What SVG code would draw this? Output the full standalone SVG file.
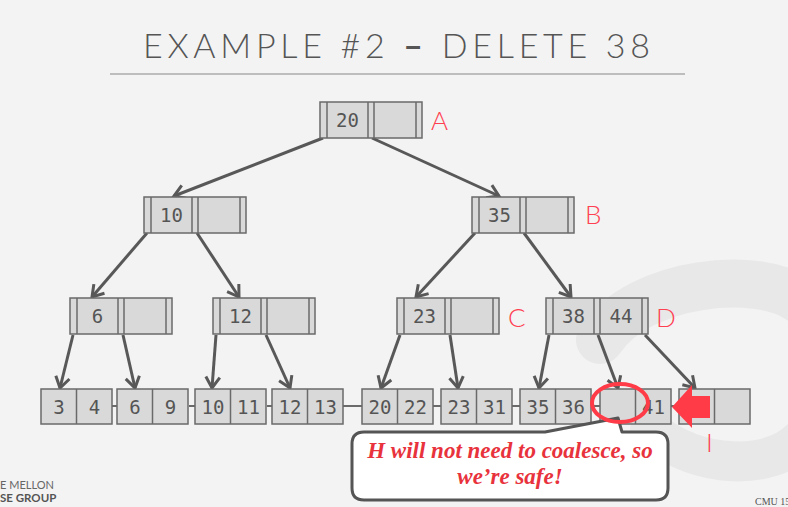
<svg xmlns="http://www.w3.org/2000/svg" width="788" height="507" viewBox="0 0 788 507">
<style>
.bg{fill:#f3f3f3}
.deco{fill:none;stroke:#e8e8e8;stroke-linecap:round}
.cell{fill:#d9d9d9;stroke:#6a6a6a;stroke-width:1.5}
.key{font-family:"DejaVu Sans Mono",monospace;font-size:19px;fill:#555;text-anchor:middle}
.lbl{font-family:"Lato","Open Sans",sans-serif;font-weight:300;font-size:26px;fill:#ff4050}
.edge{fill:none;stroke:#585858;stroke-width:3}
.sib{stroke:#6a6a6a;stroke-width:2}
.title{font-family:"Lato","Open Sans",sans-serif;font-weight:300;font-size:34px;fill:#555}
.note{font-family:"Liberation Serif",serif;font-weight:bold;font-style:italic;font-size:23px;fill:#e8323c;text-anchor:middle}
</style>
<defs>
<marker id="ah" markerUnits="userSpaceOnUse" markerWidth="20" markerHeight="20" viewBox="0 0 20 20" refX="15" refY="10" orient="auto">
<path d="M4,3 L15,10 L4,17" fill="none" stroke="#585858" stroke-width="3"/>
</marker>
<g id="inode">
<rect class="cell" x="0" y="0" width="102" height="36"/>
<line class="cell" x1="7" y1="0" x2="7" y2="36"/>
<line class="cell" x1="48" y1="0" x2="48" y2="36"/>
<line class="cell" x1="54" y1="0" x2="54" y2="36"/>
<line class="cell" x1="96" y1="0" x2="96" y2="36"/>
</g>
<g id="leaf">
<rect class="cell" x="0" y="0" width="71" height="35"/>
<line class="cell" x1="35.5" y1="0" x2="35.5" y2="35"/>
</g>
</defs>
<rect class="bg" x="0" y="0" width="788" height="507"/>
<g id="background">
<path class="deco" d="M600,340 C640,280 760,270 800,300" stroke-width="48"/>
<path class="deco" d="M650,430 C700,470 770,470 800,440" stroke-width="40"/>
</g>
<g id="title">
<text class="title" x="143" y="58" textLength="507" lengthAdjust="spacing">EXAMPLE #2 <tspan font-weight="bold">–</tspan> DELETE 38</text>
<line x1="110" y1="74" x2="685" y2="74" stroke="#bdbdbd" stroke-width="2"/>
</g>
<g id="connectors">
<path class="edge" marker-end="url(#ah)" d="M323,138 L174,196"/>
<path class="edge" marker-end="url(#ah)" d="M372,138 L499,196"/>
<path class="edge" marker-end="url(#ah)" d="M147,233 L92,297"/>
<path class="edge" marker-end="url(#ah)" d="M197,233 L239,297"/>
<path class="edge" marker-end="url(#ah)" d="M475,233 L416,297"/>
<path class="edge" marker-end="url(#ah)" d="M524,233 L571,297"/>
<path class="edge" marker-end="url(#ah)" d="M73,335 L60,388"/>
<path class="edge" marker-end="url(#ah)" d="M123,335 L135,388"/>
<path class="edge" marker-end="url(#ah)" d="M216,335 L212,388"/>
<path class="edge" marker-end="url(#ah)" d="M266,335 L290,388"/>
<path class="edge" marker-end="url(#ah)" d="M400,335 L381,388"/>
<path class="edge" marker-end="url(#ah)" d="M450,335 L458,388"/>
<path class="edge" marker-end="url(#ah)" d="M549,335 L539,388"/>
<path class="edge" marker-end="url(#ah)" d="M598,335 L618,388"/>
<path class="edge" marker-end="url(#ah)" d="M645,335 L695,388"/>
<line class="sib" x1="112" y1="406" x2="117" y2="406"/>
<line class="sib" x1="189" y1="406" x2="195" y2="406"/>
<line class="sib" x1="267" y1="406" x2="272" y2="406"/>
<line class="sib" x1="343" y1="406" x2="362" y2="406"/>
<line class="sib" x1="433" y1="406" x2="441" y2="406"/>
<line class="sib" x1="512" y1="406" x2="520" y2="406"/>
<line class="sib" x1="592" y1="406" x2="600" y2="406"/>
<line class="sib" x1="671" y1="406" x2="679" y2="406"/>
</g>
<g id="nodeA"><use href="#inode" x="320" y="102"/><text class="key" x="347.5" y="127">20</text><text class="lbl" x="431" y="130">A</text></g>
<g id="nodeB10"><use href="#inode" x="144" y="197"/><text class="key" x="171.5" y="222">10</text></g>
<g id="nodeB"><use href="#inode" x="472" y="197"/><text class="key" x="499.5" y="222">35</text><text class="lbl" x="585" y="224">B</text></g>
<g id="node6"><use href="#inode" x="70" y="298"/><text class="key" x="97.5" y="323">6</text></g>
<g id="node12"><use href="#inode" x="213" y="298"/><text class="key" x="240.5" y="323">12</text></g>
<g id="nodeC"><use href="#inode" x="397" y="298"/><text class="key" x="424.5" y="323">23</text><text class="lbl" x="508" y="327">C</text></g>
<g id="nodeD"><use href="#inode" x="546" y="298"/><text class="key" x="573.5" y="323">38</text><text class="key" x="621" y="323">44</text><text class="lbl" x="656" y="327">D</text></g>
<g id="leaf1"><use href="#leaf" x="41" y="389"/><text class="key" x="59" y="414">3</text><text class="key" x="94.5" y="414">4</text></g>
<g id="leaf2"><use href="#leaf" x="117" y="389"/><text class="key" x="135" y="414">6</text><text class="key" x="170.5" y="414">9</text></g>
<g id="leaf3"><use href="#leaf" x="195" y="389"/><text class="key" x="213" y="414">10</text><text class="key" x="248.5" y="414">11</text></g>
<g id="leaf4"><use href="#leaf" x="272" y="389"/><text class="key" x="290" y="414">12</text><text class="key" x="325.5" y="414">13</text></g>
<g id="leaf5"><use href="#leaf" x="362" y="389"/><text class="key" x="380" y="414">20</text><text class="key" x="415.5" y="414">22</text></g>
<g id="leaf6"><use href="#leaf" x="441" y="389"/><text class="key" x="459" y="414">23</text><text class="key" x="494.5" y="414">31</text></g>
<g id="leaf7"><use href="#leaf" x="520" y="389"/><text class="key" x="538" y="414">35</text><text class="key" x="573.5" y="414">36</text></g>
<g id="leafH"><use href="#leaf" x="600" y="389"/><text class="key" x="653.5" y="414">41</text></g>
<g id="leafI"><use href="#leaf" x="679" y="389"/><text class="lbl" x="706" y="452">I</text></g>
<g id="callout">
<path d="M364,432 L545,432 L618,418 L622,432 L656,432 Q668,432 668,444 L668,488 Q668,500 656,500 L364,500 Q352,500 352,488 L352,444 Q352,432 364,432 Z" fill="#ffffff" stroke="#555" stroke-width="3" stroke-linejoin="round"/>
<text class="note" x="510" y="458">H will not need to coalesce, so</text>
<text class="note" x="510" y="484">we’re safe!</text>
</g>
<g id="highlight">
<ellipse cx="620" cy="403" rx="28" ry="19" fill="none" stroke="#ff3b47" stroke-width="4"/>
<path d="M672,407 L692,385 L692,396 L710,396 L710,418 L692,418 L692,428 Z" fill="#ff3b47"/>
</g>
<g id="footer">
<text x="0" y="489" font-family="Lato,'Open Sans',sans-serif" font-size="11" fill="#666">E MELLON</text>
<text x="0" y="502" font-family="Lato,'Open Sans',sans-serif" font-size="11.5" font-weight="bold" fill="#555">SE GROUP</text>
<text x="755" y="505" font-family="'Liberation Serif',serif" font-size="10" fill="#555">CMU 15</text>
</g>
</svg>
